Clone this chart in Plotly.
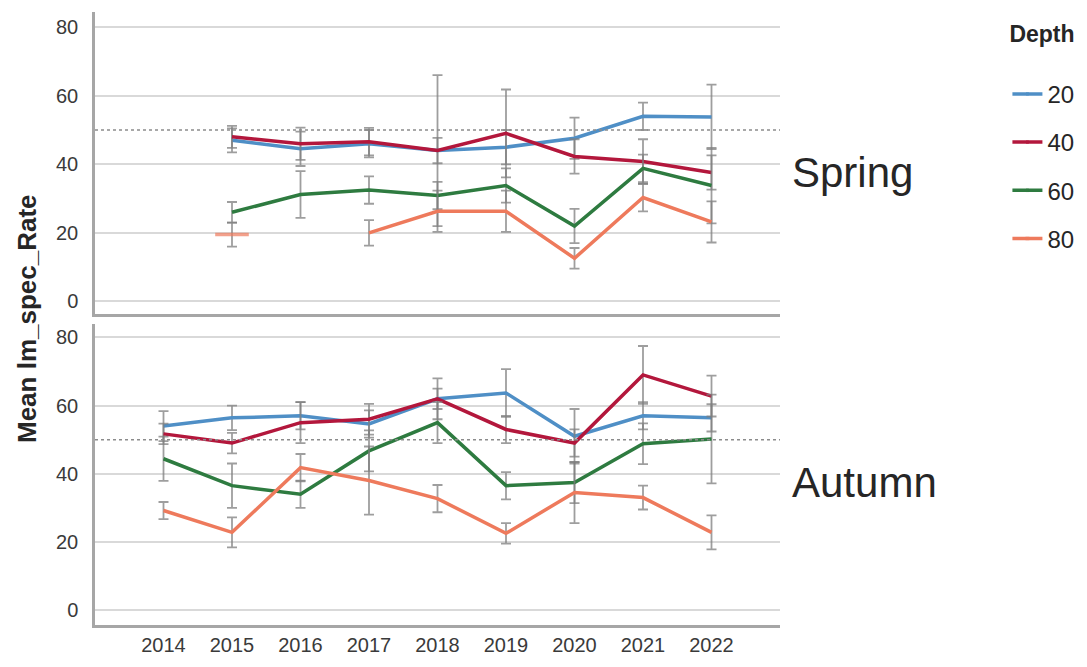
import plotly.graph_objects as go
from plotly.subplots import make_subplots

years = [2014, 2015, 2016, 2017, 2018, 2019, 2020, 2021, 2022]
depths = ["20", "40", "60", "80"]
colors = ["#4f8fc6", "#b3173c", "#2e7b40", "#ee7a5c"]

# Spring means (None = no data)
spring_20 = [None, 47.0, 44.5, 46.0, 44.0, 45.0, 47.6, 54.0, 53.8]
spring_40 = [None, 48.0, 46.0, 46.6, 44.0, 49.0, 42.3, 40.8, 37.6]
spring_60 = [None, 26.0, 31.2, 32.5, 30.9, 33.8, 22.0, 38.8, 33.8]
spring_80 = [None, 19.5, None, 20.0, 26.3, 26.3, 12.6, 30.3, 23.2]
spring_err_20 = [None, 3.5, 5.0, 4.0, 22.0, 5.0, 6.0, 4.0, 9.4]
spring_err_40 = [None, 3.2, 4.7, 4.0, 3.7, 12.8, 5.0, 6.5, 5.0]
spring_err_60 = [None, 3.0, 6.8, 4.0, 4.0, 5.0, 5.0, 4.0, 11.0]
spring_err_80 = [None, 3.5, None, 3.7, 6.0, 6.0, 3.0, 4.0, 6.0]

# Autumn means
autumn_20 = [54.0, 56.4, 57.0, 54.6, 62.0, 63.7, 51.0, 57.0, 56.4]
autumn_40 = [51.7, 49.0, 55.0, 56.0, 62.0, 53.0, 49.0, 69.0, 62.8]
autumn_60 = [44.4, 36.5, 34.0, 46.7, 55.0, 36.5, 37.4, 48.8, 50.2]
autumn_80 = [29.2, 22.8, 41.8, 38.0, 32.7, 22.5, 34.5, 33.0, 22.8]
autumn_err_20 = [4.4, 3.6, 4.0, 4.0, 3.0, 7.0, 8.0, 4.0, 4.0]
autumn_err_40 = [3.0, 3.0, 6.0, 4.5, 6.0, 4.0, 4.0, 8.5, 6.0]
autumn_err_60 = [6.5, 6.5, 4.0, 6.0, 6.0, 4.0, 6.0, 6.0, 13.0]
autumn_err_80 = [2.5, 4.4, 4.0, 10.0, 4.0, 3.0, 9.0, 3.5, 5.0]

reference_value = 50
y_ticks = [0, 20, 40, 60, 80]
panel_labels = ["Spring", "Autumn"]

spring = [spring_20, spring_40, spring_60, spring_80]
spring_err = [spring_err_20, spring_err_40, spring_err_60, spring_err_80]
autumn = [autumn_20, autumn_40, autumn_60, autumn_80]
autumn_err = [autumn_err_20, autumn_err_40, autumn_err_60, autumn_err_80]

FONT = "Liberation Sans, Arial, sans-serif"
# page body has an 8px default margin, so the figure is 8px smaller
W, H = 1079, 659
ML, MR, MT, MB = 87, 307, 4, 42

fig = make_subplots(rows=2, cols=1, shared_xaxes=True, vertical_spacing=10 / (H - MT - MB))


def isolated_sizes(vals):
    out = []
    for i, v in enumerate(vals):
        prev_ok = i > 0 and vals[i - 1] is not None
        next_ok = i < len(vals) - 1 and vals[i + 1] is not None
        out.append(24 if (v is not None and not prev_ok and not next_ok) else 0)
    return out


for row, (data, errs) in enumerate([(spring, spring_err), (autumn, autumn_err)], start=1):
    for k in range(4):
        fig.add_trace(
            go.Scatter(
                x=years, y=data[k], name=depths[k],
                mode="lines+markers",
                line=dict(color=colors[k], width=3.5),
                marker=dict(symbol="line-ew", size=isolated_sizes(data[k]),
                            line=dict(color=colors[k], width=3.5)),
                error_y=dict(type="data", array=errs[k], visible=True,
                             color="rgba(125,125,125,0.75)", thickness=1.8, width=5),
                connectgaps=False,
                showlegend=(row == 1),
                legendgroup=depths[k],
            ),
            row=row, col=1,
        )
    fig.add_hline(y=reference_value, line=dict(color="#8c8c8c", width=1.5, dash="dot"),
                  row=row, col=1)

fig.update_xaxes(range=[2013.0, 2023.0], tickvals=years, ticktext=[str(y) for y in years],
                 showgrid=False, zeroline=False, showline=True, linecolor="#a6a6a6",
                 linewidth=2.5, ticks="", tickfont=dict(family=FONT, size=20, color="#3a3a3a"))
fig.update_xaxes(showticklabels=False, row=1, col=1)
fig.update_yaxes(tickvals=y_ticks, showgrid=True, gridcolor="#d9d9d9", gridwidth=2,
                 zeroline=False, showline=True, linecolor="#a6a6a6", linewidth=2.5,
                 ticks="", ticklabelstandoff=10,
                 tickfont=dict(family=FONT, size=20, color="#3a3a3a"))
fig.update_yaxes(range=[-3.5, 84.4], row=1, col=1)
fig.update_yaxes(range=[-4.4, 84.1], row=2, col=1)

for i, lab in enumerate(panel_labels):
    fig.add_annotation(text=lab, xref="paper", x=1.0146, xanchor="left",
                       yref="y" if i == 0 else "y2", y=37.5, yanchor="middle",
                       showarrow=False, font=dict(family=FONT, size=42, color="#262626"))

fig.add_annotation(text="<b>Mean lm_spec_Rate</b>", xref="paper", x=-0.1, xanchor="center",
                   yref="paper", y=0.5, yanchor="middle", textangle=-90, showarrow=False,
                   font=dict(family=FONT, size=26, color="#262626"))

fig.update_layout(
    width=W, height=H,
    margin=dict(l=ML, r=MR, t=MT, b=MB),
    paper_bgcolor="white", plot_bgcolor="white",
    font=dict(family=FONT, color="#262626"),
    legend=dict(title=dict(text="<b>Depth</b><br> ", font=dict(family=FONT, size=23)),
                x=1.332, xanchor="left", y=1.0, yanchor="top",
                font=dict(family=FONT, size=24, color="#262626"),
                tracegroupgap=14, bgcolor="rgba(0,0,0,0)"),
)

fig.write_html("out.html")
